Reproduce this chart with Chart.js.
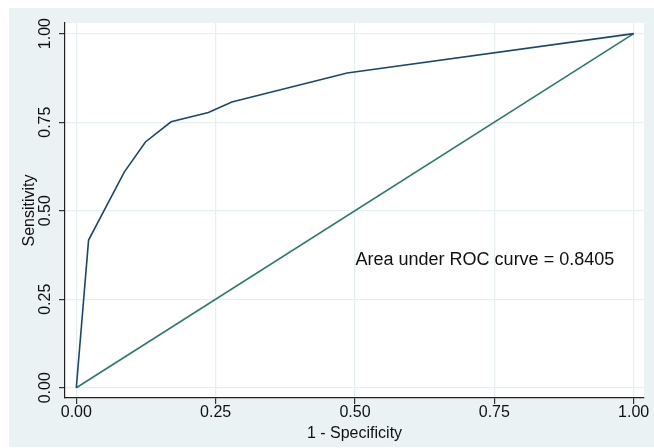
<!DOCTYPE html>
<html>
<head>
<meta charset="utf-8">
<script src="https://cdn.jsdelivr.net/npm/chart.js@4/dist/chart.umd.min.js"></script>
<style>
  html, body { margin: 0; padding: 0; background: #fff; }
  canvas { display: block; }
</style>
</head>
<body>
<canvas id="rocChart" width="654" height="448"></canvas>
<script>
// ROC points
var specComp = [0, 0.022, 0.086, 0.124, 0.170, 0.237, 0.279, 0.486, 1];   // 1 - specificity
var sensitivity = [0, 0.417, 0.609, 0.694, 0.751, 0.777, 0.807, 0.889, 1];
var refX = [0, 1];
var refY = [0, 1];
var tickValues = [0, 0.25, 0.5, 0.75, 1];
var aucText = 'Area under ROC curve = 0.8405';
var aucPos = { x: 0.501, y: 0.362 };

var FONT = '"Liberation Sans", Arial, sans-serif';
var TEXT = '#111';

function toPoints(xs, ys) {
    return xs.map(function (x, i) { return { x: x, y: ys[i] }; });
}

function setTicks(scale) {
    scale.ticks = tickValues.map(function (v) { return { value: v }; });
}

var stataLook = {
    id: 'stataLook',
    beforeDraw: function (chart) {
        var ctx = chart.ctx, a = chart.chartArea;
        ctx.save();
        ctx.fillStyle = '#fff';
        ctx.fillRect(0, 0, chart.width, chart.height);
        ctx.fillStyle = '#eaf2f3';
        ctx.fillRect(9, 8, chart.width - 9, chart.height - 9);
        ctx.fillStyle = '#fff';
        ctx.fillRect(a.left, a.top, a.right - a.left, a.bottom - a.top);
        ctx.restore();
    },
    afterDraw: function (chart) {
        var ctx = chart.ctx, a = chart.chartArea;
        var xs = chart.scales.x, ys = chart.scales.y;
        ctx.save();
        ctx.fillStyle = TEXT;
        ctx.font = '16px ' + FONT;

        // x tick labels
        ctx.textAlign = 'center';
        ctx.textBaseline = 'middle';
        xs.ticks.forEach(function (t) {
            ctx.fillText(t.value.toFixed(2), xs.getPixelForValue(t.value), 413);
        });

        // y tick labels, rotated like Stata
        ys.ticks.forEach(function (t) {
            ctx.save();
            ctx.translate(46, ys.getPixelForValue(t.value));
            ctx.rotate(-Math.PI / 2);
            ctx.fillText(t.value.toFixed(2), 0, 0);
            ctx.restore();
        });

        // axis titles
        ctx.fillText('1 - Specificity', (a.left + a.right) / 2, 434);
        ctx.save();
        ctx.translate(30, (a.top + a.bottom) / 2);
        ctx.rotate(-Math.PI / 2);
        ctx.fillText('Sensitivity', 0, 0);
        ctx.restore();

        // AUC note
        ctx.font = '18px ' + FONT;
        ctx.textAlign = 'left';
        ctx.fillText(aucText, xs.getPixelForValue(aucPos.x), ys.getPixelForValue(aucPos.y));
        ctx.restore();
    }
};

new Chart(document.getElementById('rocChart'), {
    type: 'line',
    data: {
        datasets: [
            {
                data: toPoints(specComp, sensitivity),
                borderColor: '#1a476f',
                borderWidth: 1.6,
                pointRadius: 0,
                tension: 0
            },
            {
                data: toPoints(refX, refY),
                borderColor: '#2a7a6b',
                borderWidth: 1.6,
                pointRadius: 0,
                tension: 0
            }
        ]
    },
    options: {
        responsive: false,
        animation: false,
        devicePixelRatio: 1,
        layout: { padding: { left: 0, top: 23, right: 10, bottom: 0 } },
        plugins: { legend: { display: false }, tooltip: { enabled: false } },
        scales: {
            x: {
                type: 'linear',
                min: -0.0203,
                max: 1.0185,
                afterBuildTicks: setTicks,
                afterFit: function (s) { s.height = 50; },
                ticks: { display: false },
                grid: { color: '#e6eff1', tickColor: '#333', tickLength: 6, lineWidth: 1.2 },
                border: { color: '#222', width: 1.2 }
            },
            y: {
                type: 'linear',
                min: -0.029,
                max: 1.030,
                afterBuildTicks: setTicks,
                afterFit: function (s) { s.width = 65; },
                ticks: { display: false },
                grid: { color: '#e6eff1', tickColor: '#333', tickLength: 6, lineWidth: 1.2 },
                border: { color: '#222', width: 1.2 }
            }
        }
    },
    plugins: [stataLook]
});
</script>
</body>
</html>
